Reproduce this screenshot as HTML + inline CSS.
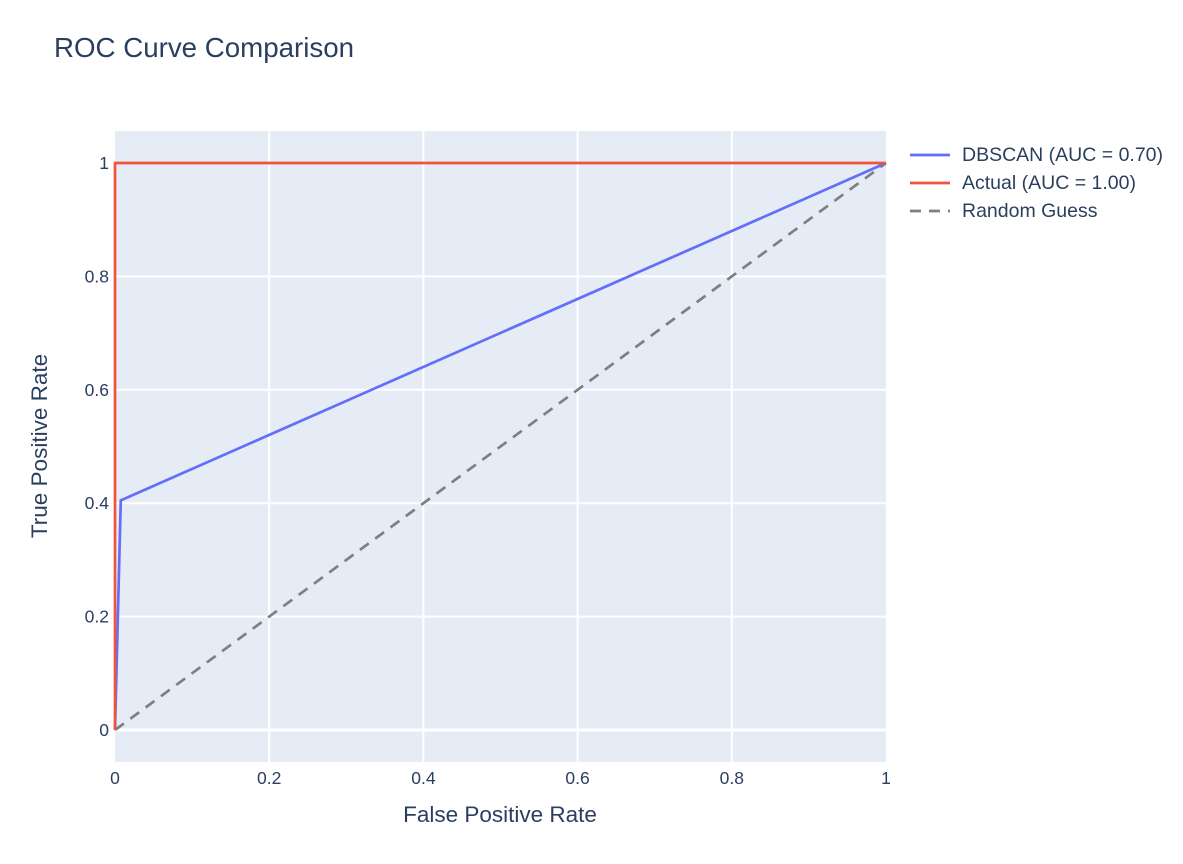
<!DOCTYPE html>
<html><head><meta charset="utf-8"><style>
body{margin:0;background:#fff;font-family:"Liberation Sans",Arial,sans-serif;}
</style></head><body>
<svg id="chart" width="1183" height="859" xmlns="http://www.w3.org/2000/svg" style="font-family:'Liberation Sans',Arial,sans-serif">
<rect width="1183" height="859" fill="#fff"/>
<text x="54" y="57" font-size="27.7" fill="#2a3f5f">ROC Curve Comparison</text>
<rect x="115" y="131" width="771" height="631" fill="#e5ecf6"/>
<g id="grid"></g>
<g id="marks"></g>
<g id="ticks"></g>
<text x="500" y="822" font-size="22.5" fill="#2a3f5f" text-anchor="middle">False Positive Rate</text>
<text transform="translate(47,446) rotate(-90)" font-size="22.5" fill="#2a3f5f" text-anchor="middle">True Positive Rate</text>
<g id="legend"></g>
</svg>
<script>
const xTicks=[0,0.2,0.4,0.6,0.8,1];
const yTicks=[0,0.2,0.4,0.6,0.8,1];
const tickLabels=["0","0.2","0.4","0.6","0.8","1"];
const seriesNames=["DBSCAN (AUC = 0.70)","Actual (AUC = 1.00)","Random Guess"];
const dbscanX=[0,0.0075,1];
const dbscanY=[0,0.405,1];
const actualX=[0,0,1];
const actualY=[0,1,1];
const randomX=[0,1];
const randomY=[0,1];
const colors=["#636efa","#ef553b","#7f7f7f"];
const NS="http://www.w3.org/2000/svg";
const sx=v=>115+v*771, sy=v=>730-v*567;
function mk(tag,attrs,parent){const e=document.createElementNS(NS,tag);for(const k in attrs)e.setAttribute(k,attrs[k]);document.getElementById(parent).appendChild(e);return e;}
xTicks.forEach((t,i)=>{
  if(t>0&&t<1){const g=mk('line',{x1:sx(t),x2:sx(t),y1:131,y2:762,stroke:'#fff','stroke-width':2},'grid');
  
  }
  const l=mk('text',{x:sx(t),y:784,'font-size':17.5,fill:'#2a3f5f','text-anchor':'middle'},'ticks');l.textContent=tickLabels[i];
  
  
});
yTicks.forEach((t,i)=>{
  const g=mk('line',{x1:115,x2:886,y1:sy(t),y2:sy(t),stroke:'#fff','stroke-width':t===0?3:2},'grid');
  
  
  const l=mk('text',{x:109,y:sy(t)+6,'font-size':17.5,fill:'#2a3f5f','text-anchor':'end'},'ticks');l.textContent=tickLabels[i];
  
  
});
function line(xs,ys,c,dash,name){
  const p=mk('polyline',{points:xs.map((x,i)=>sx(x)+','+sy(ys[i])).join(' '),fill:'none',stroke:c,'stroke-width':2.7,'stroke-dasharray':dash||'none'},'marks');
  
  
}
line(randomX,randomY,colors[2],'11,8','random-guess-line');
line(dbscanX,dbscanY,colors[0],null,'dbscan-line');
line(actualX,actualY,colors[1],null,'actual-line');
seriesNames.forEach((n,i)=>{
  const y=155+i*28;
  const l=mk('line',{x1:910,x2:950,y1:y,y2:y,stroke:colors[i],'stroke-width':2.7,'stroke-dasharray':i===2?'11,8':'none'},'legend');
  
  
  const t=mk('text',{x:962,y:y+6,'font-size':19.5,fill:'#2a3f5f'},'legend');t.textContent=n;
  
  
});
</script>
</body></html>
